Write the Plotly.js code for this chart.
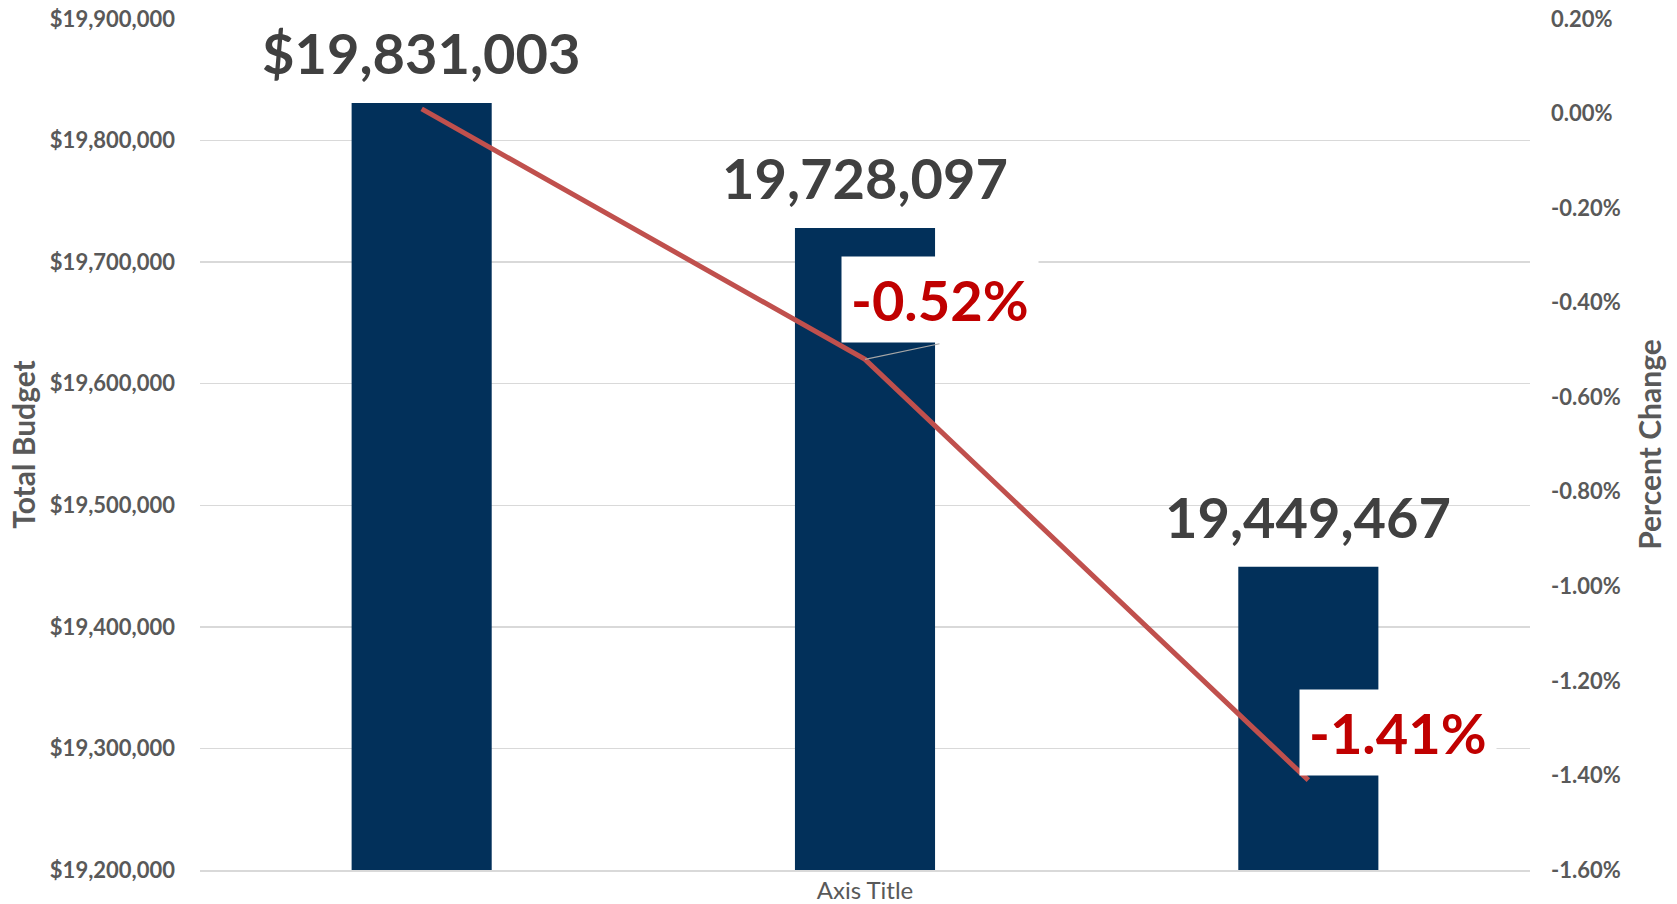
<!DOCTYPE html>
<html>
<head>
<meta charset="utf-8">
<script src="https://cdn.plot.ly/plotly-3.0.1.min.js"></script>
<style>html,body{margin:0;padding:0;background:#fff;}#chart{width:1677px;height:904px;}</style>
</head>
<body>
<div id="chart"></div>
<script>
// ---- data ----
const categories = ['A', 'B', 'C'];
const totalBudget = [19831003, 19728097, 19449467];
const percentChange = [0.01, -0.52, -1.41];
const budgetPrefix = ['$', '', ''];
const leftTickVals = [19200000, 19300000, 19400000, 19500000, 19600000, 19700000, 19800000, 19900000];
const leftTickText = ['$19,200,000', '$19,300,000', '$19,400,000', '$19,500,000', '$19,600,000', '$19,700,000', '$19,800,000', '$19,900,000'];
const rightTickVals = [0.2, 0, -0.2, -0.4, -0.6, -0.8, -1.0, -1.2, -1.4, -1.6];
const rightTickText = ['0.20%', '0.00%', '-0.20%', '-0.40%', '-0.60%', '-0.80%', '-1.00%', '-1.20%', '-1.40%', '-1.60%'];

const FONT = 'Lato, Carlito, Calibri, "Open Sans", sans-serif';

const bars = {
  type: 'bar', x: categories, y: totalBudget, yaxis: 'y',
  marker: {color: '#02305A'}, hoverinfo: 'skip', showlegend: false
};
const line = {
  type: 'scatter', mode: 'lines', x: categories, y: percentChange, yaxis: 'y2',
  line: {color: '#C0504D', width: 5}, hoverinfo: 'skip', showlegend: false
};

const annotations = [];
// bar value labels
totalBudget.forEach((v, i) => {
  annotations.push({
    x: categories[i], y: v, xref: 'x', yref: 'y',
    text: budgetPrefix[i] + v.toLocaleString('en-US'),
    showarrow: false, yanchor: 'bottom', yshift: 15,
    font: {family: FONT, size: 56, color: '#404040', weight: 'bold'}
  });
});
// percent labels (skip first point)
const pctShift = [null, [75, 60], [90, 48]];
percentChange.forEach((v, i) => {
  if (i === 0) return;
  if (i === 1) {
    annotations.push({
      x: categories[i], y: v, xref: 'x', yref: 'y2', text: '',
      showarrow: true, arrowhead: 0, arrowwidth: 1.2, arrowcolor: '#A6A6A6',
      ax: 76, ay: -16, standoff: 0
    });
  }
  annotations.push({
    x: categories[i], y: v, xref: 'x', yref: 'y2',
    text: v.toFixed(2) + '%', showarrow: false,
    xshift: pctShift[i][0], yshift: pctShift[i][1],
    bgcolor: '#FFFFFF', borderpad: 9,
    font: {family: FONT, size: 56, color: '#C00000', weight: 'bold'}
  });
});

const layout = {
  width: 1677, height: 904,
  margin: {l: 200, r: 147, t: 19, b: 34},
  paper_bgcolor: '#FFFFFF', plot_bgcolor: '#FFFFFF',
  font: {family: FONT, color: '#595959'},
  bargap: 0.684,
  showlegend: false,
  xaxis: {
    type: 'category', range: [-0.5, 2.5], autorange: false,
    showticklabels: false, ticks: '',
    showgrid: false, showline: true, linecolor: '#D9D9D9', linewidth: 1.5,
    zeroline: false, fixedrange: true,
    title: {text: 'Axis Title', standoff: 12, font: {family: FONT, size: 24, color: '#595959'}}
  },
  yaxis: {
    range: [19200000, 19900000], autorange: false, tickvals: leftTickVals, ticktext: leftTickText,
    showgrid: true, gridcolor: '#D9D9D9', gridwidth: 1.5, zeroline: false, showline: false,
    ticks: '', ticklabelstandoff: 24,
    tickfont: {family: FONT, size: 22, color: '#595959', weight: 'bold'},
    title: {text: 'Total Budget', standoff: 5, font: {family: FONT, size: 30, color: '#595959', weight: 'bold'}},
    automargin: false, fixedrange: true
  },
  yaxis2: {
    overlaying: 'y', side: 'right', range: [-1.6, 0.2], autorange: false,
    tickvals: rightTickVals, ticktext: rightTickText,
    showgrid: false, zeroline: false, showline: false, ticks: '', ticklabelstandoff: 20,
    tickfont: {family: FONT, size: 22, color: '#595959', weight: 'bold'},
    title: {text: 'Percent Change', standoff: 20, font: {family: FONT, size: 30, color: '#595959', weight: 'bold'}},
    automargin: false, fixedrange: true
  },
  annotations: annotations
};

Plotly.newPlot('chart', [bars, line], layout, {displayModeBar: false, staticPlot: true});
</script>
</body>
</html>
